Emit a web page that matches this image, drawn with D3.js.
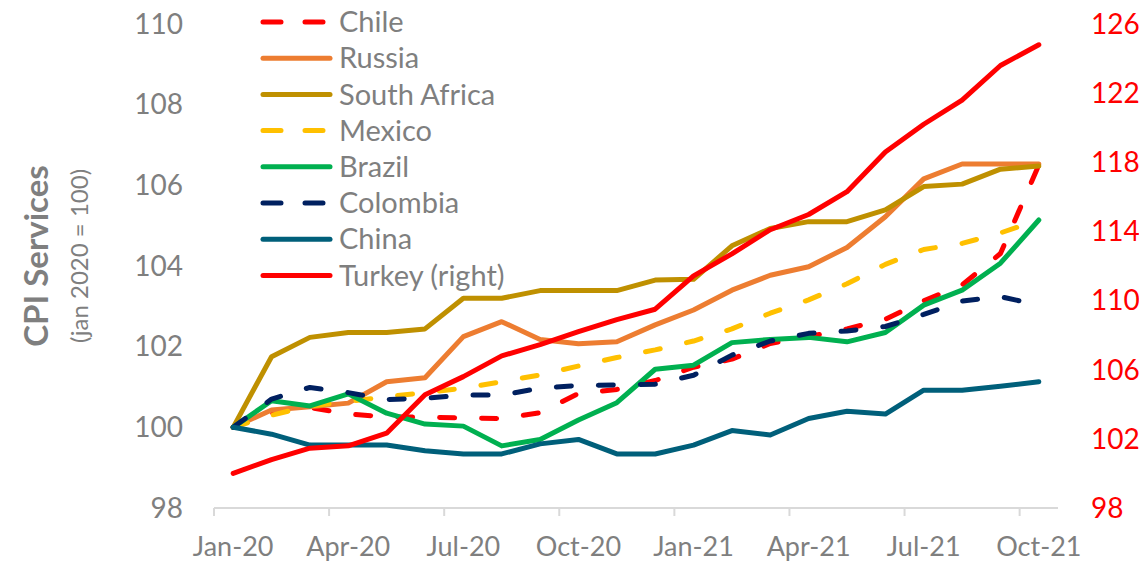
<!DOCTYPE html>
<html>
<head>
<meta charset="utf-8">
<script src="https://cdn.jsdelivr.net/npm/d3@7"></script>
<style>
    body { margin: 0; background: #fff; }
    text { font-family: Lato, "Open Sans", sans-serif; }
</style>
</head>
<body>
<div id="chart"></div>
<script>
var months = ["Jan-20", "Feb-20", "Mar-20", "Apr-20", "May-20", "Jun-20", "Jul-20", "Aug-20", "Sep-20", "Oct-20", "Nov-20", "Dec-20",
    "Jan-21", "Feb-21", "Mar-21", "Apr-21", "May-21", "Jun-21", "Jul-21", "Aug-21", "Sep-21", "Oct-21"];
var tickMonths = ["Jan-20", "Apr-20", "Jul-20", "Oct-20", "Jan-21", "Apr-21", "Jul-21", "Oct-21"];
var leftTicks = [98, 100, 102, 104, 106, 108, 110];
var rightTicks = [98, 102, 106, 110, 114, 118, 122, 126];

var chile = [100, 100.35, 100.49, 100.33, 100.26, 100.25, 100.23, 100.22, 100.36, 100.84, 100.94, 101.16, 101.49, 101.69, 102.08, 102.25, 102.44, 102.68, 103.14, 103.53, 104.31, 106.5];
var russia = [100, 100.43, 100.51, 100.6, 101.13, 101.23, 102.25, 102.62, 102.18, 102.07, 102.12, 102.54, 102.91, 103.4, 103.77, 103.98, 104.46, 105.22, 106.16, 106.53, 106.53, 106.53];
var southAfrica = [100, 101.75, 102.23, 102.35, 102.35, 102.44, 103.2, 103.2, 103.39, 103.39, 103.39, 103.65, 103.67, 104.5, 104.93, 105.1, 105.1, 105.39, 105.97, 106.03, 106.4, 106.48];
var mexico = [100, 100.3, 100.53, 100.64, 100.76, 100.86, 100.97, 101.13, 101.3, 101.52, 101.73, 101.92, 102.14, 102.44, 102.83, 103.16, 103.56, 104.04, 104.41, 104.56, 104.82, 105.14];
var brazil = [100, 100.66, 100.53, 100.83, 100.35, 100.08, 100.03, 99.54, 99.7, 100.18, 100.61, 101.44, 101.54, 102.1, 102.18, 102.23, 102.12, 102.35, 103.03, 103.4, 104.07, 105.14];
var colombia = [100, 100.7, 100.99, 100.86, 100.69, 100.72, 100.8, 100.8, 100.97, 101.04, 101.05, 101.07, 101.29, 101.79, 102.14, 102.33, 102.39, 102.5, 102.8, 103.13, 103.24, 103.03];
var china = [100, 99.83, 99.56, 99.56, 99.56, 99.42, 99.34, 99.34, 99.59, 99.7, 99.34, 99.34, 99.56, 99.92, 99.81, 100.22, 100.4, 100.33, 100.92, 100.92, 101.02, 101.13];
var turkey = [100, 100.8, 101.46, 101.6, 102.33, 104.55, 105.6, 106.8, 107.45, 108.2, 108.9, 109.5, 111.43, 112.7, 114.1, 114.98, 116.3, 118.6, 120.2, 121.6, 123.6, 124.8];

var series = [
    {name: "Chile", values: chile, color: "#ff0000", dashed: true, right: false},
    {name: "Russia", values: russia, color: "#ed7d31", dashed: false, right: false},
    {name: "South Africa", values: southAfrica, color: "#bf9000", dashed: false, right: false},
    {name: "Mexico", values: mexico, color: "#ffc000", dashed: true, right: false},
    {name: "Brazil", values: brazil, color: "#00b050", dashed: false, right: false},
    {name: "Colombia", values: colombia, color: "#002060", dashed: true, right: false},
    {name: "China", values: china, color: "#005f7a", dashed: false, right: false},
    {name: "Turkey (right)", values: turkey, color: "#ff0000", dashed: false, right: true}
];

var width = 1139, height = 563;
var plotLeft = 214, plotRight = 1058, plotTop = 24, plotBottom = 508;
var grey = "#7f7f7f";

var svg = d3.select('#chart')
    .append('svg')
    .attr('width', width)
    .attr('height', height);

var x = d3.scaleBand()
    .domain(months)
    .range([plotLeft, plotRight])
    .paddingInner(0)
    .paddingOuter(0);
var bw = x.bandwidth();

var yLeft = d3.scaleLinear().domain([98, 110]).range([plotBottom, plotTop]);
var yRight = d3.scaleLinear().domain([98, 126]).range([plotBottom, plotTop]);

// x axis: ticks sit on band edges, labels in band centres
svg.append("line")
    .attr("x1", plotLeft).attr("x2", plotRight)
    .attr("y1", plotBottom).attr("y2", plotBottom)
    .style("stroke", "#d9d9d9").style("stroke-width", 2);

svg.selectAll(".xtick")
    .data(tickMonths)
    .enter().append("line")
    .attr("class", "xtick")
    .attr("x1", function (d) { return x(d); })
    .attr("x2", function (d) { return x(d); })
    .attr("y1", plotBottom).attr("y2", plotBottom + 8)
    .style("stroke", "#d9d9d9").style("stroke-width", 2);

svg.selectAll(".xlabel")
    .data(tickMonths)
    .enter().append("text")
    .attr("class", "xlabel")
    .attr("x", function (d) { return x(d) + bw / 2; })
    .attr("y", plotBottom + 48)
    .attr("text-anchor", "middle")
    .attr("font-size", 27)
    .attr("fill", grey)
    .text(function (d) { return d; });

svg.selectAll(".ylabel")
    .data(leftTicks)
    .enter().append("text")
    .attr("class", "ylabel")
    .attr("x", 183)
    .attr("y", function (d) { return yLeft(d); })
    .attr("dy", "0.35em")
    .attr("text-anchor", "end")
    .attr("font-size", 28)
    .attr("fill", grey)
    .text(function (d) { return d; });

svg.selectAll(".y2label")
    .data(rightTicks)
    .enter().append("text")
    .attr("class", "y2label")
    .attr("x", 1091)
    .attr("y", function (d) { return yRight(d); })
    .attr("dy", "0.35em")
    .attr("text-anchor", "start")
    .attr("font-size", 28)
    .attr("fill", "#ff0000")
    .text(function (d) { return d; });

// axis title
var title = svg.append("g").attr("transform", "translate(36,256) rotate(-90)");
title.append("text")
    .attr("text-anchor", "middle")
    .attr("dy", "0.35em")
    .attr("font-size", 33)
    .attr("font-weight", "bold")
    .attr("fill", grey)
    .text("CPI Services");
title.append("text")
    .attr("y", 44)
    .attr("text-anchor", "middle")
    .attr("dy", "0.35em")
    .attr("font-size", 24)
    .attr("fill", grey)
    .text("(jan 2020 = 100)");

// lines
series.forEach(function (s) {
    var yScale = s.right ? yRight : yLeft;
    var line = d3.line()
        .x(function (d, i) { return x(months[i]) + bw / 2; })
        .y(function (d) { return yScale(d); });
    svg.append("path")
        .datum(s.values)
        .attr("d", line)
        .style("fill", "none")
        .style("stroke", s.color)
        .style("stroke-width", 5)
        .style("stroke-linecap", "round")
        .style("stroke-linejoin", "round")
        .style("stroke-dasharray", s.dashed ? "15,27" : null);
});

// legend
var legend = svg.selectAll(".legend")
    .data(series)
    .enter().append("g")
    .attr("class", "legend")
    .attr("transform", function (d, i) { return "translate(0," + (22 + i * 36.2) + ")"; });

legend.append("line")
    .attr("x1", 263).attr("x2", 330)
    .attr("y1", 0).attr("y2", 0)
    .style("stroke", function (d) { return d.color; })
    .style("stroke-width", 5)
    .style("stroke-linecap", "round")
    .style("stroke-dasharray", function (d) { return d.dashed ? "18,24" : null; });

legend.append("text")
    .attr("x", 339)
    .attr("dy", "0.35em")
    .attr("font-size", 29)
    .attr("fill", grey)
    .text(function (d) { return d.name; });
</script>
</body>
</html>
